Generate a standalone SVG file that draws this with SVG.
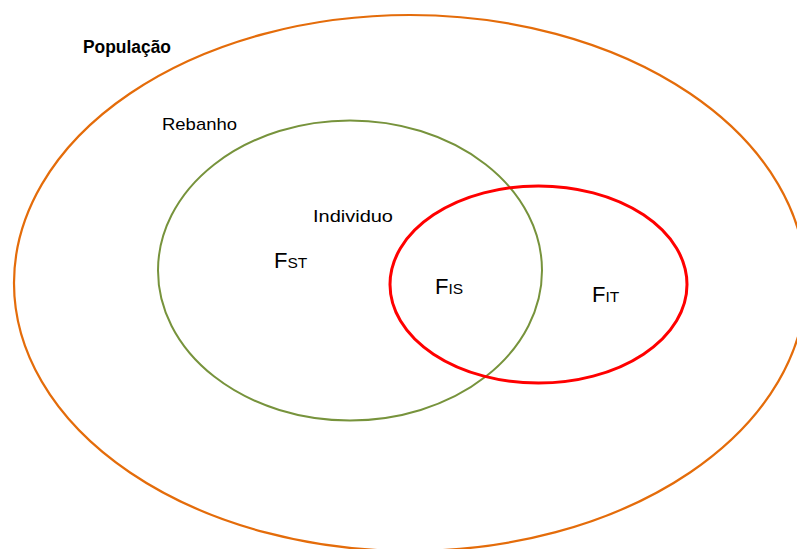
<svg xmlns="http://www.w3.org/2000/svg" width="797" height="549" viewBox="0 0 797 549">
<style>
.lbl{font-family:"Liberation Sans",Arial,sans-serif;fill:#000}
.f{font-family:"Liberation Sans",Arial,sans-serif;font-size:22px;fill:#000}
.sub{font-size:15.5px}
</style>
<rect width="797" height="549" fill="#fff"/>
<g id="populacao">
<ellipse cx="410" cy="283" rx="396" ry="268" fill="none" stroke="#E46C0A" stroke-width="2.2"/>
<text class="lbl" x="83" y="53" font-size="18" font-weight="bold" textLength="88" lengthAdjust="spacingAndGlyphs">População</text>
</g>
<g id="rebanho">
<ellipse cx="350" cy="270.5" rx="192" ry="150" fill="none" stroke="#77933C" stroke-width="2"/>
<text class="lbl" x="162" y="130" font-size="17" textLength="75" lengthAdjust="spacingAndGlyphs">Rebanho</text>
</g>
<g id="individuo">
<ellipse cx="538.5" cy="284.5" rx="148.5" ry="98.5" fill="none" stroke="#FF0000" stroke-width="3"/>
<text class="lbl" x="313" y="222" font-size="17" textLength="80" lengthAdjust="spacingAndGlyphs">Individuo</text>
</g>
<g id="labels">
<text class="f" x="274" y="268">F<tspan class="sub">ST</tspan></text>
<text class="f" x="435" y="294">F<tspan class="sub">IS</tspan></text>
<text class="f" x="592" y="302">F<tspan class="sub">IT</tspan></text>
</g>
<g id="connectors"/>
</svg>
